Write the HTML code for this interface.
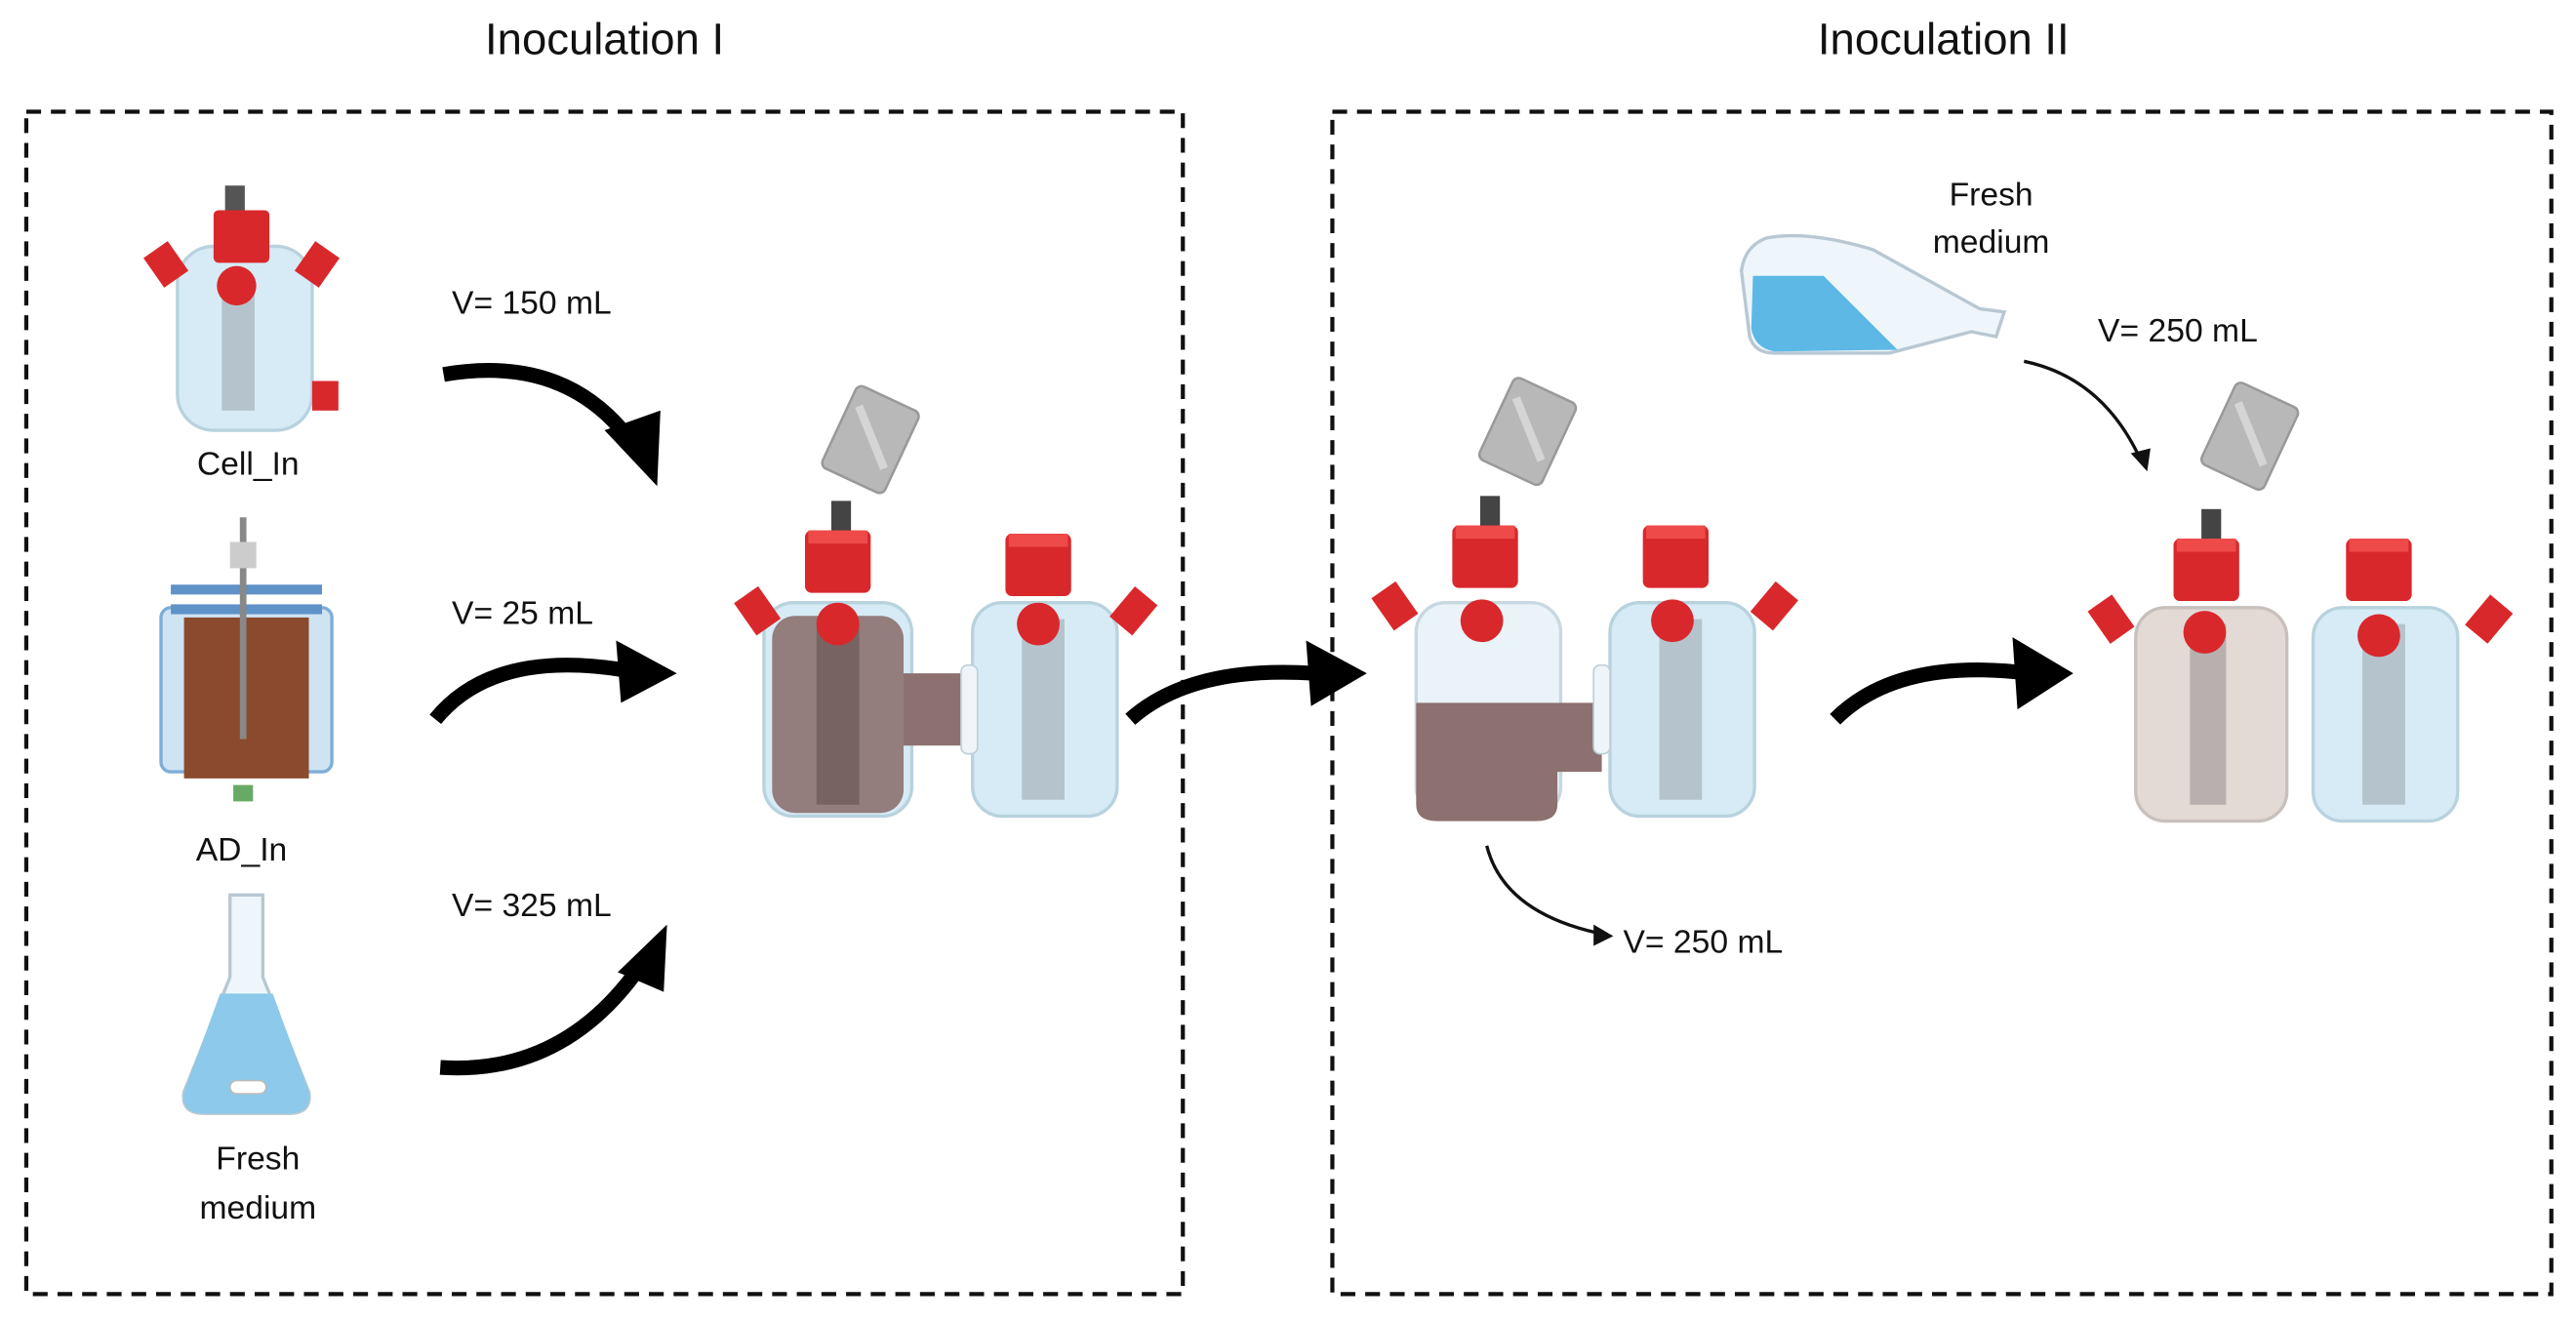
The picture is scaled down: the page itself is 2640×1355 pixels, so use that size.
<!DOCTYPE html>
<html><head><meta charset="utf-8"><style>
html,body{margin:0;padding:0;background:#fff;}
svg{display:block}
text{font-family:"Liberation Sans",sans-serif;fill:#111}
</style></head><body>
<svg width="2640" height="1355" viewBox="0 0 1568 805" preserveAspectRatio="none" xmlns="http://www.w3.org/2000/svg">
<defs>
<g id="bottle">
  <rect x="0" y="20" width="88" height="130" rx="18" fill="#d6ebf5" stroke="#b8d2de" stroke-width="2"/>
  <rect x="30" y="30" width="26" height="110" fill="#9eaab0" opacity="0.6"/>
</g>
<g id="cap">
  <rect x="0" y="0" width="40" height="38" rx="4" fill="#d9282c"/>
  <rect x="2" y="0" width="36" height="8" fill="#ee4a4a"/>
</g>
<g id="bag">
  <rect x="0" y="0" width="42" height="55" rx="4" fill="#b8b8b8" stroke="#999" stroke-width="1.5"/>
  <path d="M6 12 L36 40" stroke="#d5d5d5" stroke-width="5"/>
</g>
</defs>

<text x="368" y="33" font-size="27" text-anchor="middle">Inoculation I</text>
<text x="1183" y="33" font-size="27" text-anchor="middle">Inoculation II</text>

<rect x="16" y="68" width="704" height="720" fill="none" stroke="#111" stroke-width="2.5" stroke-dasharray="9,6"/>
<rect x="811" y="68" width="742" height="720" fill="none" stroke="#111" stroke-width="2.5" stroke-dasharray="9,6"/>

<!-- Cell_In vessel -->
<rect x="108" y="150" width="82" height="112" rx="22" fill="#d6ebf5" stroke="#b8d2de" stroke-width="2"/>
<rect x="135" y="170" width="20" height="80" fill="#9eaab0" opacity="0.6"/>
<rect x="137" y="113" width="12" height="18" fill="#555"/>
<rect x="130" y="128" width="34" height="32" rx="3" fill="#d9282c"/>
<circle cx="144" cy="174" r="12" fill="#d9282c"/>
<rect x="92" y="150" width="18" height="22" fill="#d9282c" transform="rotate(-35 101 161)"/>
<rect x="184" y="150" width="18" height="22" fill="#d9282c" transform="rotate(35 193 161)"/>
<rect x="190" y="232" width="16" height="18" fill="#d9282c"/>
<text x="151" y="289" font-size="20" text-anchor="middle">Cell_In</text>

<!-- AD_In -->
<rect x="98" y="370" width="104" height="100" rx="6" fill="#cfe4f3" stroke="#7eaed6" stroke-width="2"/>
<rect x="112" y="376" width="76" height="98" fill="#8b4a2e"/>
<rect x="104" y="356" width="92" height="6" fill="#5f92c7"/>
<rect x="104" y="368" width="92" height="6" fill="#5f92c7"/>
<line x1="148" y1="315" x2="148" y2="450" stroke="#888" stroke-width="4"/>
<rect x="140" y="330" width="16" height="16" fill="#ccc"/>
<rect x="142" y="478" width="12" height="10" fill="#6a6"/>
<text x="147" y="524" font-size="20" text-anchor="middle">AD_In</text>

<!-- Flask -->
<path d="M140 545 L160 545 L160 595 L188 665 Q190 678 176 678 L124 678 Q110 678 112 665 L140 595 Z" fill="#eef6fb" stroke="#b8c8d2" stroke-width="2"/>
<path d="M134 605 L166 605 L188 665 Q190 678 176 678 L124 678 Q110 678 112 665 Z" fill="#8cc9ea"/>
<rect x="140" y="658" width="22" height="8" rx="4" fill="#fff" stroke="#bbb"/>
<text x="157" y="712" font-size="20" text-anchor="middle">Fresh</text>
<text x="157" y="742" font-size="20" text-anchor="middle">medium</text>

<text x="275" y="191" font-size="20">V= 150 mL</text>
<text x="275" y="380" font-size="20">V= 25 mL</text>
<text x="275" y="558" font-size="20">V= 325 mL</text>

<!-- big arrows -->
<g fill="none" stroke="#000" stroke-width="9">
<path d="M270 228 Q345 215 385 270"/>
<path d="M265 438 Q300 395 380 408"/>
<path d="M268 650 Q345 655 392 585"/>
<path d="M688 438 Q725 405 800 410"/>
<path d="M1117 438 Q1155 400 1235 410"/>
</g>
<polygon points="400,296 368,262 402,250" fill="#000"/>
<polygon points="412,410 375,390 378,428" fill="#000"/>
<polygon points="406,563 376,592 404,604" fill="#000"/>
<polygon points="832,410 795,390 798,430" fill="#000"/>
<polygon points="1262,410 1225,388 1228,432" fill="#000"/>

<!-- Reactor pair 1 -->
<use href="#bottle" x="592" y="347"/>
<rect x="465" y="367" width="90" height="130" rx="18" fill="#d6ebf5" stroke="#b8d2de" stroke-width="2"/>
<rect x="470" y="375" width="80" height="120" rx="14" fill="#8c7170" opacity="0.9"/>
<rect x="550" y="410" width="40" height="44" fill="#8c7170"/>
<rect x="585" y="405" width="10" height="54" rx="4" fill="#eef4f8" stroke="#c0d0d8"/>
<rect x="497" y="380" width="26" height="110" fill="#5e4a4a" opacity="0.5"/>
<rect x="506" y="305" width="12" height="20" fill="#444"/>
<use href="#cap" x="490" y="323"/>
<use href="#cap" x="612" y="325"/>
<circle cx="510" cy="380" r="13" fill="#d9282c"/>
<circle cx="632" cy="380" r="13" fill="#d9282c"/>
<rect x="452" y="360" width="18" height="24" fill="#d9282c" transform="rotate(-35 461 372)"/>
<rect x="681" y="360" width="18" height="24" fill="#d9282c" transform="rotate(40 690 372)"/>
<g transform="rotate(25 530 265)"><use href="#bag" x="510" y="240"/></g>

<!-- Reactor pair 2 -->
<use href="#bottle" x="980" y="347"/>
<rect x="862" y="367" width="88" height="130" rx="18" fill="#eaf3f8" stroke="#c8d8e0" stroke-width="2"/>
<path d="M862 428 L975 428 L975 470 L948 470 L948 490 Q948 500 935 500 L875 500 Q862 500 862 490 Z" fill="#8c7170"/>
<rect x="970" y="405" width="10" height="54" rx="4" fill="#eef4f8" stroke="#c0d0d8"/>
<rect x="901" y="302" width="12" height="20" fill="#444"/>
<use href="#cap" x="884" y="320"/>
<use href="#cap" x="1000" y="320"/>
<circle cx="902" cy="378" r="13" fill="#d9282c"/>
<circle cx="1018" cy="378" r="13" fill="#d9282c"/>
<rect x="840" y="357" width="18" height="24" fill="#d9282c" transform="rotate(-35 849 369)"/>
<rect x="1071" y="357" width="18" height="24" fill="#d9282c" transform="rotate(40 1080 369)"/>
<g transform="rotate(25 930 260)"><use href="#bag" x="910" y="235"/></g>

<!-- Reactor pair 3 -->
<use href="#bottle" x="1408" y="350"/>
<rect x="1300" y="370" width="92" height="130" rx="18" fill="#e3dad6" stroke="#c8c0bc" stroke-width="2"/>
<rect x="1333" y="380" width="22" height="110" fill="#9a9494" opacity="0.6"/>
<rect x="1340" y="310" width="12" height="20" fill="#444"/>
<use href="#cap" x="1323" y="328"/>
<use href="#cap" x="1428" y="328"/>
<circle cx="1342" cy="385" r="13" fill="#d9282c"/>
<circle cx="1448" cy="387" r="13" fill="#d9282c"/>
<rect x="1276" y="365" width="18" height="24" fill="#d9282c" transform="rotate(-35 1285 377)"/>
<rect x="1506" y="365" width="18" height="24" fill="#d9282c" transform="rotate(40 1515 377)"/>
<g transform="rotate(25 1370 262)"><use href="#bag" x="1350" y="238"/></g>

<!-- pouring flask -->
<path d="M1075 145 Q1062 150 1060 165 L1065 205 Q1068 215 1080 215 L1150 215 L1200 202 L1215 205 L1220 190 L1205 188 L1140 152 Q1100 140 1075 145 Z" fill="#eef6fb" stroke="#b8c8d2" stroke-width="2"/>
<path d="M1067 168 L1110 168 L1155 213 L1080 214 Q1068 212 1066 200 Z" fill="#5db8e6"/>
<text x="1212" y="125" font-size="20" text-anchor="middle">Fresh</text>
<text x="1212" y="154" font-size="20" text-anchor="middle">medium</text>
<text x="1277" y="208" font-size="20">V= 250 mL</text>
<path d="M1232 220 Q1280 230 1303 280" fill="none" stroke="#111" stroke-width="2"/>
<polygon points="1307,287 1297,276 1309,273" fill="#111"/>

<path d="M905 515 Q915 555 972 568" fill="none" stroke="#111" stroke-width="2"/>
<polygon points="982,570 970,563 970,576" fill="#111"/>
<text x="988" y="580" font-size="20">V= 250 mL</text>
</svg>
</body></html>
